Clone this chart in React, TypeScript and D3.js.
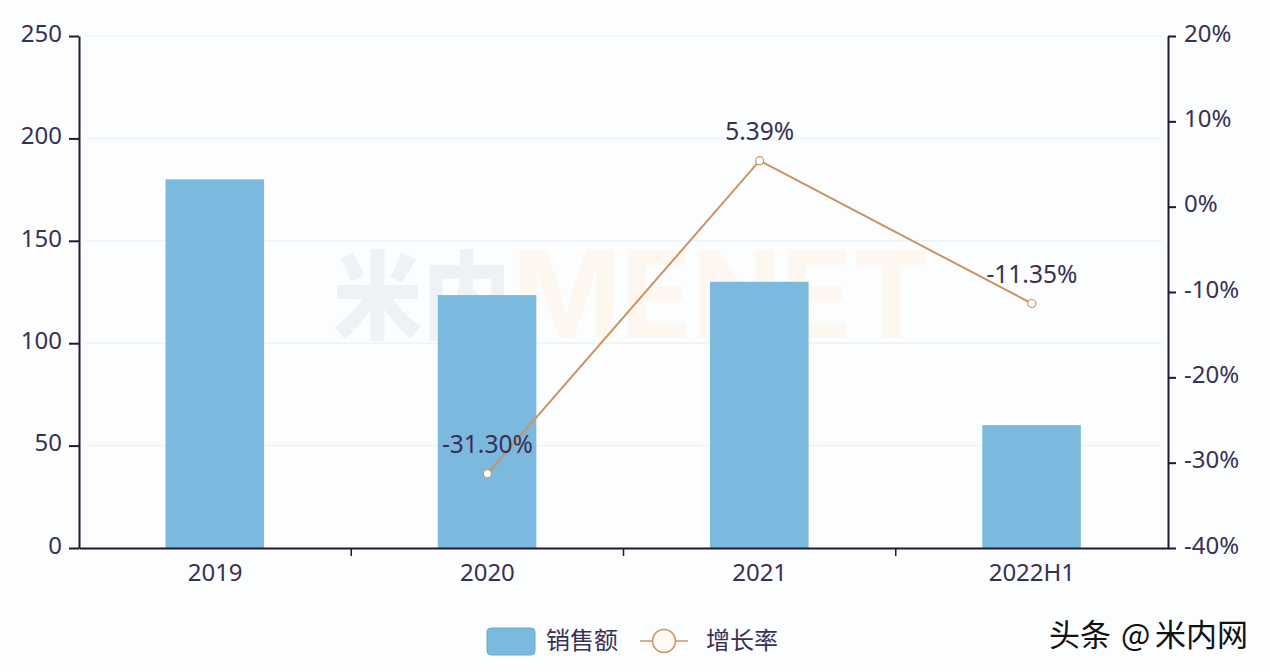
import { useEffect, useRef } from "react";
import * as d3 from "d3";

const categories = ["2019", "2020", "2021", "2022H1"];
const sales = [180, 123.5, 130, 60];
const growth: (number | null)[] = [null, -31.3, 5.39, -11.35];
const growthLabels = ["", "-31.30%", "5.39%", "-11.35%"];
const salesTicks = [0, 50, 100, 150, 200, 250];
const growthTicks = [-40, -30, -20, -10, 0, 10, 20];

const width = 1270;
const height = 672;
const left = 79;
const right = 1168;
const top = 36;
const bottom = 548;
const textColor = "#3a3052";
const axisColor = "#1f1836";
const barColor = "#7cb9de";
const lineColor = "#c9955f";
const font = "'Noto Sans', 'Noto Sans CJK SC', sans-serif";
const cjkFont = "'Noto Sans CJK SC', sans-serif";

export default function App() {
  const svgRef = useRef<SVGSVGElement>(null);

  useEffect(() => {
    if (!svgRef.current) return;

    const svg = d3.select(svgRef.current);
    svg.selectAll("*").remove();

    const x = d3.scaleBand<string>().domain(categories).range([left, right]);
    const ySales = d3.scaleLinear().domain([0, 250]).range([bottom, top]);
    const yGrowth = d3.scaleLinear().domain([-40, 20]).range([bottom, top]);
    const barWidth = x.bandwidth() * 0.362;

    svg.append("rect").attr("width", width).attr("height", height).attr("fill", "#fbfdfe");

    // pale watermark behind everything
    svg
      .append("text")
      .attr("x", 333)
      .attr("y", 331)
      .attr("font-family", cjkFont)
      .attr("font-weight", 900)
      .attr("font-size", 96)
      .attr("fill", "#ecf2f6")
      .attr("textLength", 178)
      .attr("lengthAdjust", "spacingAndGlyphs")
      .text("米内");
    svg
      .append("text")
      .attr("x", 512)
      .attr("y", 338)
      .attr("font-family", "Inter, sans-serif")
      .attr("font-weight", 700)
      .attr("font-size", 121)
      .attr("fill", "#fdf7ef")
      .attr("textLength", 418)
      .attr("lengthAdjust", "spacingAndGlyphs")
      .text("MENET");

    // grid
    svg
      .append("g")
      .selectAll("line")
      .data(salesTicks.slice(1))
      .enter()
      .append("line")
      .attr("x1", left + 6)
      .attr("x2", right - 6)
      .attr("y1", (d) => ySales(d))
      .attr("y2", (d) => ySales(d))
      .attr("stroke", "#edf3f8")
      .attr("stroke-width", 1.5);

    // bars
    svg
      .append("g")
      .selectAll("rect")
      .data(sales)
      .enter()
      .append("rect")
      .attr("x", (_, i) => x(categories[i])! + x.bandwidth() / 2 - barWidth / 2 - 0.3)
      .attr("y", (d) => ySales(d))
      .attr("width", barWidth)
      .attr("height", (d) => bottom - ySales(d))
      .attr("fill", barColor);

    // axes
    const styleAxis = (g: d3.Selection<SVGGElement, unknown, null, undefined>) => {
      g.selectAll("path").attr("stroke", axisColor).attr("stroke-width", 2);
      g.selectAll("line").attr("stroke", axisColor).attr("stroke-width", 2);
      g.selectAll("text").attr("fill", textColor).attr("font-family", font).attr("font-size", 24);
    };

    svg
      .append("g")
      .attr("transform", `translate(0,${bottom})`)
      .call(d3.axisBottom(x).tickSize(0))
      .call(styleAxis)
      .call((g) => g.selectAll("text").attr("dy", "0").attr("y", 33));

    // category separators on the x axis
    svg
      .append("g")
      .selectAll("line")
      .data(categories.slice(1))
      .enter()
      .append("line")
      .attr("x1", (d) => x(d)!)
      .attr("x2", (d) => x(d)!)
      .attr("y1", bottom)
      .attr("y2", bottom + 8)
      .attr("stroke", axisColor)
      .attr("stroke-width", 1.5);

    svg
      .append("g")
      .attr("transform", `translate(${left},0)`)
      .call(d3.axisLeft(ySales).tickValues(salesTicks).tickSize(10).tickSizeOuter(0).tickPadding(7))
      .call(styleAxis)
      .call((g) => g.selectAll("text").attr("dy", "0.22em"));

    svg
      .append("g")
      .attr("transform", `translate(${right},0)`)
      .call(
        d3
          .axisRight(yGrowth)
          .tickValues(growthTicks)
          .tickSize(8)
          .tickSizeOuter(0)
          .tickPadding(8)
          .tickFormat((d) => `${d}%`),
      )
      .call(styleAxis)
      .call((g) => g.selectAll("text").attr("dy", "0.22em"));

    // growth line
    const points = categories.map((c, i) => ({ c, v: growth[i], label: growthLabels[i] })).filter((p) => p.v !== null);
    const cx = (c: string) => x(c)! + x.bandwidth() / 2;
    const line = d3
      .line<(typeof points)[0]>()
      .x((d) => cx(d.c))
      .y((d) => yGrowth(d.v as number));

    svg
      .append("path")
      .attr("d", line(points))
      .attr("fill", "none")
      .attr("stroke", lineColor)
      .attr("stroke-width", 2);

    svg
      .append("g")
      .selectAll("circle")
      .data(points)
      .enter()
      .append("circle")
      .attr("cx", (d) => cx(d.c))
      .attr("cy", (d) => yGrowth(d.v as number))
      .attr("r", 4)
      .attr("fill", "#fff")
      .attr("stroke", lineColor)
      .attr("stroke-width", 1.2);

    svg
      .append("g")
      .selectAll("text")
      .data(points)
      .enter()
      .append("text")
      .attr("x", (d) => cx(d.c))
      .attr("y", (d) => yGrowth(d.v as number) - 21)
      .attr("text-anchor", "middle")
      .attr("fill", textColor)
      .attr("font-family", font)
      .attr("font-size", 24.5)
      .text((d) => d.label);

    // legend
    const legend = svg.append("g").attr("font-family", cjkFont).attr("font-size", 24).attr("fill", textColor);
    legend
      .append("rect")
      .attr("x", 487)
      .attr("y", 628)
      .attr("width", 48)
      .attr("height", 27)
      .attr("rx", 4)
      .attr("fill", barColor)
      .attr("stroke", "#6fa8c9");
    legend.append("text").attr("x", 546).attr("y", 649).text("销售额");
    legend
      .append("line")
      .attr("x1", 640)
      .attr("x2", 688)
      .attr("y1", 641)
      .attr("y2", 641)
      .attr("stroke", lineColor)
      .attr("stroke-width", 1.5);
    legend
      .append("circle")
      .attr("cx", 664)
      .attr("cy", 641)
      .attr("r", 11.5)
      .attr("fill", "#fffaf5")
      .attr("stroke", lineColor)
      .attr("stroke-width", 1.5);
    legend.append("text").attr("x", 706).attr("y", 649).text("增长率");

    // platform mark
    const mark = svg
      .append("g")
      .attr("font-family", cjkFont)
      .attr("font-size", 31)
      .attr("fill", "#111");
    mark.append("text").attr("x", 1049).attr("y", 646).text("头条");
    mark.append("text").attr("x", 1121).attr("y", 646).text("@");
    mark.append("text").attr("x", 1155).attr("y", 646).text("米内网");
  }, []);

  return (
    <svg
      ref={svgRef}
      width={width}
      height={height}
      viewBox={`0 0 ${width} ${height}`}
      style={{ position: "fixed", left: 0, top: 0, display: "block" }}
    />
  );
}
